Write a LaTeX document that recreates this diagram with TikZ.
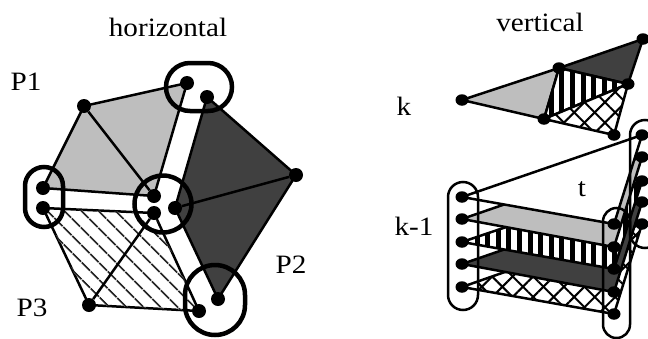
\documentclass[tikz,border=0pt]{standalone}
\usepackage{fontspec}
\setmainfont[FakeStretch=1.1]{Liberation Serif}
\usetikzlibrary{shapes.geometric, shapes.misc, patterns.meta, backgrounds}
\definecolor{lightface}{RGB}{190, 190, 190}
\definecolor{darkface}{RGB}{64, 64, 64}
\tikzset{
    vtx/.style={circle, fill=black, inner sep=0pt, minimum size=14pt},
    vtxflat/.style={ellipse, fill=black, inner sep=0pt, minimum width=13pt, minimum height=11.5pt},
    edge/.style={draw=black, line width=2.5pt, line join=round},
    ringbold/.style={draw=black, line width=4.5pt, rounded rectangle, inner sep=0pt},
    ringthin/.style={draw=black, line width=2.5pt, rounded rectangle, inner sep=0pt, rotate=90},
    lbl/.style={font=\fontsize{26.5}{26.5}\selectfont, inner sep=0pt},
    facelight/.style={edge, fill=lightface},
    facedark/.style={edge, fill=darkface},
    facediag/.style={edge, fill=white, postaction={pattern={Lines[angle=-45, distance=13pt, line width=2pt]}, pattern color=black!85}},
    facestripe/.style={edge, fill=white, postaction={pattern={Lines[angle=90, distance=10.6pt, line width=5pt]}, pattern color=black}},
    facecross/.style={edge, fill=white, postaction={pattern={Lines[angle=45, distance=14.5pt, line width=2pt]}, pattern color=black}, postaction={pattern={Lines[angle=-45, distance=14.5pt, line width=2pt]}, pattern color=black}},
}
\begin{document}
\begin{tikzpicture}[x=1pt, y=-1pt]
    \clip (0,0) rectangle (648,338);

    % Titles and labels
    \node[lbl] (horiz) at (168,27) {horizontal};
    \node[lbl] (vert) at (540,22) {vertical};
    \node[lbl] (p1) at (26,82) {P1};
    \node[lbl] (p2) at (291,265) {P2};
    \node[lbl] (p3) at (32,308) {P3};
    \node[lbl] (k) at (404,106) {k};
    \node[lbl] (km) at (414,226) {k-1};
    \node[lbl] (t) at (582,189) {t};

    % Horizontal partition
    \node[vtx] (ha) at (84,106) {};
    \node[vtx] (hb) at (187,83) {};
    \node[vtx] (hc) at (207,97) {};
    \node[vtx] (hd) at (296,175) {};
    \node[vtx] (he) at (154,196) {};
    \node[vtx] (hf) at (175,208) {};
    \node[vtx] (hg) at (154,213) {};
    \node[vtx] (hh) at (43,188) {};
    \node[vtx] (hi) at (43,208) {};
    \node[vtx] (hj) at (89,305) {};
    \node[vtx] (hk) at (199,311) {};
    \node[vtx] (hl) at (218,299) {};

    \begin{scope}[on background layer]
        \draw[facelight] (hh.center) -- (ha.center) -- (hb.center) -- (he.center) -- cycle;
        \draw[edge] (ha) -- (he);
        \draw[facedark] (hc.center) -- (hd.center) -- (hl.center) -- (hf.center) -- cycle;
        \draw[edge] (hf) -- (hd);
        \draw[facediag] (hi.center) -- (hg.center) -- (hk.center) -- (hj.center) -- cycle;
        \draw[edge] (hg) -- (hj);
    \end{scope}

    \node[ringbold, minimum width=66pt, minimum height=48pt] (rtop) at (199,87) {};
    \node[ringbold, rotate=90, minimum width=60pt, minimum height=38pt] (rleft) at (44,197) {};
    \node[ringbold, circle, minimum size=57pt] (rmid) at (163,204) {};
    \node[ringbold, rotate=90, minimum width=70pt, minimum height=60pt] (rbot) at (215,300) {};

    % Vertical: level k
    \node[vtxflat] (ka) at (462,100) {};
    \node[vtxflat] (kb) at (559,68) {};
    \node[vtxflat] (kc) at (643,39) {};
    \node[vtxflat] (kd) at (628,84) {};
    \node[vtxflat] (ke) at (544,119) {};
    \node[vtxflat] (kf) at (614,135) {};

    \begin{scope}[on background layer]
        \draw[facelight] (ka.center) -- (kb.center) -- (ke.center) -- cycle;
        \draw[facedark] (kb.center) -- (kc.center) -- (kd.center) -- cycle;
        \draw[facestripe] (kb.center) -- (kd.center) -- (ke.center) -- cycle;
        \draw[facecross] (ke.center) -- (kd.center) -- (kf.center) -- cycle;
    \end{scope}

    % Vertical: level k-1
    \node[vtxflat] (la1) at (462,197) {};
    \node[vtxflat] (la2) at (462,219) {};
    \node[vtxflat] (la3) at (462,242) {};
    \node[vtxflat] (la4) at (462,264) {};
    \node[vtxflat] (la5) at (462,287) {};
    \node[vtxflat] (lb1) at (614,224) {};
    \node[vtxflat] (lb2) at (614,247) {};
    \node[vtxflat] (lb3) at (614,269) {};
    \node[vtxflat] (lb4) at (614,292) {};
    \node[vtxflat] (lb5) at (614,314) {};
    \node[vtxflat] (lc1) at (642,135) {};
    \node[vtxflat] (lc2) at (642,157) {};
    \node[vtxflat] (lc3) at (642,181) {};
    \node[vtxflat] (lc4) at (642,202) {};
    \node[vtxflat] (lc5) at (642,224) {};

    \begin{scope}[on background layer]
        \draw[facecross] (la5.center) -- (lb5.center) -- (lc5.center) -- cycle;
        \draw[facedark] (la4.center) -- (lb4.center) -- (lc4.center) -- cycle;
        \draw[facestripe] (la3.center) -- (lb3.center) -- (lc3.center) -- cycle;
        \draw[facelight] (la2.center) -- (lb2.center) -- (lc2.center) -- cycle;
        \draw[edge, fill=white] (la1.center) -- (lb1.center) -- (lc1.center) -- cycle;
    \end{scope}

    \node[ringthin, minimum width=128pt, minimum height=30pt] (rl) at (463,246) {};
    \node[ringthin, minimum width=130pt, minimum height=27pt] (rm) at (616.5,273) {};
    \node[ringthin, minimum width=128pt, minimum height=30pt] (rr) at (645,184) {};
\end{tikzpicture}
\end{document}
